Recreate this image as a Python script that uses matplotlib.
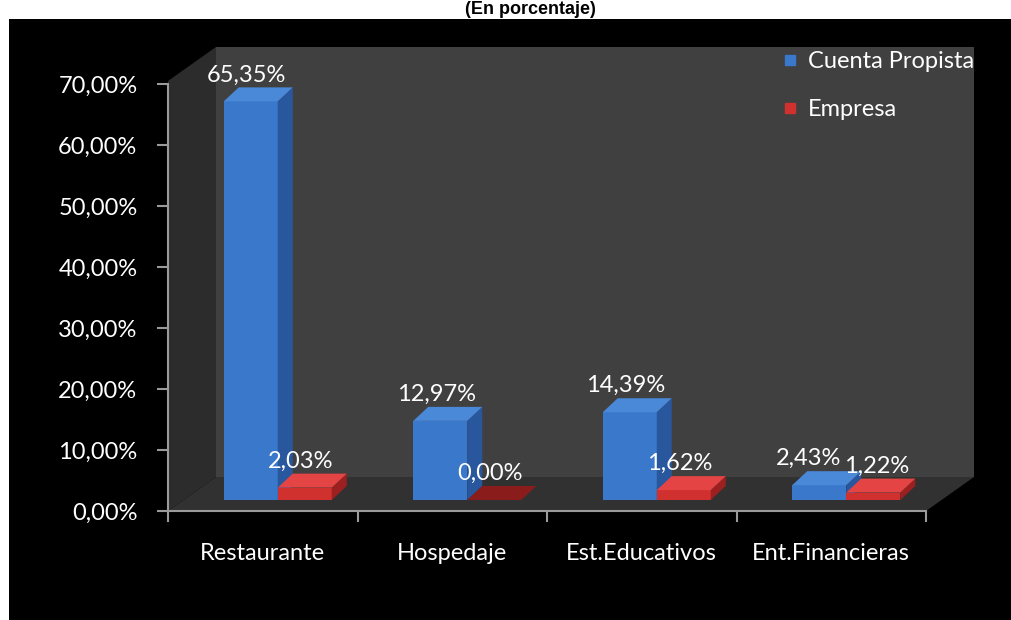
import matplotlib
matplotlib.use("Agg")
import matplotlib.pyplot as plt
from matplotlib.patches import Polygon, Rectangle
from matplotlib.lines import Line2D

# ---- data ----
categories = ["Restaurante", "Hospedaje", "Est.Educativos", "Ent.Financieras"]
cuenta_propista = [65.35, 12.97, 14.39, 2.43]
empresa = [2.03, 0.00, 1.62, 1.22]
series_names = ["Cuenta Propista", "Empresa"]
yticks = [0, 10, 20, 30, 40, 50, 60, 70]
ytick_labels = ["0,00%", "10,00%", "20,00%", "30,00%", "40,00%", "50,00%", "60,00%", "70,00%"]

def fmt(v):
    return f"{v:.2f}".replace(".", ",") + "%"

W, H = 1011, 620
fig = plt.figure(figsize=(W / 100, H / 100), dpi=100)
fig.patch.set_facecolor("white")
FONT = ["Lato", "DejaVu Sans"]
FS = 17

# black chart background
fig.patches.append(Rectangle((9 / W, 0), 1 - 9 / W, (H - 19) / H, transform=fig.transFigure,
                             facecolor="black", edgecolor="none", zorder=-10))
# title
fig.text(530 / W, 1 - 9.5 / H, "(En porcentaje)", ha="center", va="center", fontsize=13,
         fontweight="bold", color="black", family=["Liberation Sans", "DejaVu Sans"])

# axes geometry (front plane)
x0p, x1p = 168, 926
y0p, y70p = 511, 84
ax = fig.add_axes([x0p / W, (H - y0p) / H, (x1p - x0p) / W, (y0p - y70p) / H])
ax.set_xlim(-0.5, 3.5)
ax.set_ylim(0, 70)
ax.set_facecolor("none")
for s in ["top", "right"]:
    ax.spines[s].set_visible(False)
for s in ["left", "bottom"]:
    ax.spines[s].set_color("#9a9a9a")
    ax.spines[s].set_linewidth(1.5)
    ax.spines[s].set_zorder(20)

pxx = 4.0 / (x1p - x0p)          # category units per pixel
pxy = 70.0 / (y0p - y70p)        # percent units per pixel

DX, DY = 48 * pxx, 34 * pxy      # full depth of floor / walls
TOP = 70.5
BFX, BFY = 15 * pxx, 11 * pxy    # bar front offset
BDX, BDY = 15 * pxx, 14 * pxy    # bar depth
BW = 0.285

def poly(pts, fc, z, ec="none"):
    ax.add_patch(Polygon(pts, closed=True, facecolor=fc, edgecolor=ec, lw=0.5,
                         zorder=z, clip_on=False))

# walls and floor
poly([(-0.5 + DX, DY), (3.5 + DX, DY), (3.5 + DX, TOP + DY), (-0.5 + DX, TOP + DY)], "#404040", 1)
poly([(-0.5, 0), (-0.5 + DX, DY), (-0.5 + DX, TOP + DY), (-0.5, TOP)], "#2c2c2c", 1)
poly([(-0.5, 0), (3.5, 0), (3.5 + DX, DY), (-0.5 + DX, DY)], "#313131", 2)

def bar3d(xl, v, front, side, top, z):
    xl = xl + BFX
    xr = xl + BW
    b = BFY
    t = b + v
    if v > 0:
        ax.bar(xl, v, width=BW, bottom=b, align="edge", color=front, zorder=z, clip_on=False)
        poly([(xr, b), (xr + BDX, b + BDY), (xr + BDX, t + BDY), (xr, t)], side, z)
    poly([(xl, t), (xr, t), (xr + BDX, t + BDY), (xl + BDX, t + BDY)], top, z)

for i in range(len(categories)):
    z = 5 + i * 2
    bar3d(i - BW, cuenta_propista[i], "#3a78cc", "#28579e", "#4a88d8", z)
    if empresa[i] > 0:
        bar3d(i, empresa[i], "#d0302e", "#9c2020", "#e44444", z + 1)
    else:
        bar3d(i, empresa[i], "#8b1c1c", "#8b1c1c", "#8b1c1c", z + 1)

# data labels (last group nudged apart so the two labels do not collide)
for i in range(len(categories)):
    nudge = 5 if i == len(categories) - 1 else 0
    for xl, v, dx in [(i - BW, cuenta_propista[i], -nudge), (i, empresa[i], nudge)]:
        xc = xl + BFX + BW / 2 - 4 * pxx
        ax.annotate(fmt(v), (xc, v + BFY + BDY), xytext=(dx, 9), textcoords="offset points",
                    ha="center", va="center", color="white", fontsize=FS, family=FONT,
                    zorder=30, annotation_clip=False)

# ticks
ax.set_yticks(yticks)
ax.set_yticklabels(ytick_labels)
ax.tick_params(axis="y", direction="out", length=8, width=1.5, color="#9a9a9a",
               labelcolor="white", labelsize=FS, pad=14)
ax.set_xticks([-0.5, 0.5, 1.5, 2.5, 3.5])
ax.set_xticklabels([])
ax.set_xticks(range(len(categories)), minor=True)
ax.set_xticklabels(categories, minor=True)
ax.tick_params(axis="x", which="major", direction="out", length=8, width=1.5, color="#9a9a9a")
ax.tick_params(axis="x", which="minor", length=0, labelcolor="white", labelsize=FS, pad=23)
for lab in ax.get_yticklabels() + ax.get_xticklabels(minor=True):
    lab.set_family(FONT)

# legend
handles = [Line2D([], [], marker="s", ls="none", markersize=7, color="#3a78cc"),
           Line2D([], [], marker="s", ls="none", markersize=7, color="#d0302e")]
leg = fig.legend(handles, series_names, loc="upper left", bbox_to_anchor=(783 / W, 1 - 51 / H),
                 frameon=False, handlelength=0.6, handletextpad=0.45, labelspacing=1.15,
                 prop={"family": FONT, "size": FS}, borderaxespad=0, borderpad=0)
for t in leg.get_texts():
    t.set_color("white")

fig.savefig("out.png", dpi=100, facecolor=fig.get_facecolor())
